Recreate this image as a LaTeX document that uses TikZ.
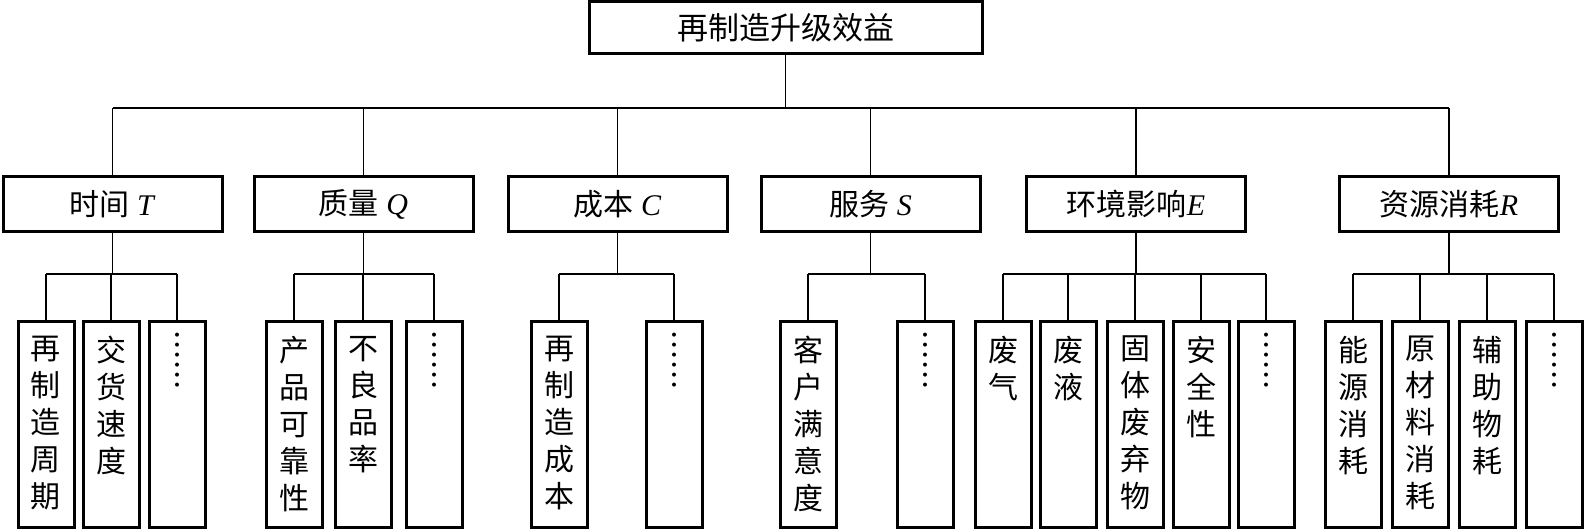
\documentclass[tikz,border=0pt]{standalone}
\usepackage{fontspec}
\setmainfont{Liberation Serif}
\newfontfamily\cjk{Noto Sans CJK SC}
\begin{document}
\begin{tikzpicture}[x=0.5pt,y=-0.5pt,
  box/.style={draw, line width=1.5pt, inner sep=0pt},
  topbox/.style={box, minimum width=196.5pt, minimum height=26pt, font=\cjk\fontsize{15.5pt}{18pt}\selectfont},
  lvtwo/.style={box, minimum width=109.5pt, minimum height=27.5pt, font=\fontsize{15pt}{18pt}\selectfont},
  leaf/.style={box, minimum width=28pt, minimum height=103pt},
  leaftext/.style={anchor=north, inner sep=0pt, align=center, font=\cjk\fontsize{15pt}{18.5pt}\selectfont},
  dotstext/.style={anchor=north, inner sep=0pt, align=center, font=\cjk\fontsize{15pt}{15pt}\selectfont},
  conn/.style={line width=0.6pt},
  hconn/.style={line width=0.9pt}]
\useasboundingbox (0,0) rectangle (1584,529);
\coordinate (b1) at (0,108);
\coordinate (b2) at (0,274);

% top
\node[topbox] (top) at (785.5,28) {再制造升级效益};

% level 2
\node[lvtwo] (T) at (112.5,204.5) {{\cjk 时间} \textit{T}};
\node[lvtwo] (Q) at (363.5,204.5) {{\cjk 质量} \textit{Q}};
\node[lvtwo] (C) at (617.5,204.5) {{\cjk 成本} \textit{C}};
\node[lvtwo] (S) at (870.5,204.5) {{\cjk 服务} \textit{S}};
\node[lvtwo] (E) at (1136,204.5) {{\cjk 环境影响}\textit{E}};
\node[lvtwo] (R) at (1449,204.5) {{\cjk 资源消耗}\textit{R}};

% leaves
\foreach \n/\x in {t1/46,t2/111,t3/177,q1/294,q2/363,q3/434,c1/559,c2/674,s1/808,s2/925,
                   e1/1003,e2/1068,e3/1135,e4/1201,e5/1266,r1/1353,r2/1420,r3/1487,r4/1554}
  \node[leaf] (\n) at (\x,424) {};

\node[leaftext] (t1x) at ([yshift=-8pt]t1.north) {再\\制\\造\\周\\期};
\node[leaftext] (t2x) at ([yshift=-8pt]t2.north) {交\\货\\速\\度};
\node[dotstext] (t3x) at ([yshift=-6.5pt]t3.north) {︙\\︙};
\node[leaftext] (q1x) at ([yshift=-8pt]q1.north) {产\\品\\可\\靠\\性};
\node[leaftext] (q2x) at ([yshift=-8pt]q2.north) {不\\良\\品\\率};
\node[dotstext] (q3x) at ([yshift=-6.5pt]q3.north) {︙\\︙};
\node[leaftext] (c1x) at ([yshift=-8pt]c1.north) {再\\制\\造\\成\\本};
\node[dotstext] (c2x) at ([yshift=-6.5pt]c2.north) {︙\\︙};
\node[leaftext] (s1x) at ([yshift=-8pt]s1.north) {客\\户\\满\\意\\度};
\node[dotstext] (s2x) at ([yshift=-6.5pt]s2.north) {︙\\︙};
\node[leaftext] (e1x) at ([yshift=-8pt]e1.north) {废\\气};
\node[leaftext] (e2x) at ([yshift=-8pt]e2.north) {废\\液};
\node[leaftext] (e3x) at ([yshift=-8pt]e3.north) {固\\体\\废\\弃\\物};
\node[leaftext] (e4x) at ([yshift=-8pt]e4.north) {安\\全\\性};
\node[dotstext] (e5x) at ([yshift=-6.5pt]e5.north) {︙\\︙};
\node[leaftext] (r1x) at ([yshift=-8pt]r1.north) {能\\源\\消\\耗};
\node[leaftext] (r2x) at ([yshift=-8pt]r2.north) {原\\材\\料\\消\\耗};
\node[leaftext] (r3x) at ([yshift=-8pt]r3.north) {辅\\助\\物\\耗};
\node[dotstext] (r4x) at ([yshift=-6.5pt]r4.north) {︙\\︙};

% top connectors
\draw[conn] (top.south) -- (top.south |- b1);
\draw[conn] (T.north |- b1) -- (R.north |- b1);
\foreach \n in {T,Q,C,S,E,R}
  \draw[conn] (\n.north) -- (\n.north |- b1);

% group connectors
\foreach \p/\a/\b in {T/t1/t3,Q/q1/q3,C/c1/c2,S/s1/s2,E/e1/e5,R/r1/r4} {
  \draw[conn] (\p.south) -- (\p.south |- b2);
  \draw[hconn] (\a.north |- b2) -- (\b.north |- b2);
}
\foreach \n in {t1,t2,t3,q1,q2,q3,c1,c2,s1,s2,e1,e2,e3,e4,e5,r1,r2,r3,r4}
  \draw[conn] (\n.north) -- (\n.north |- b2);
\end{tikzpicture}
\end{document}
